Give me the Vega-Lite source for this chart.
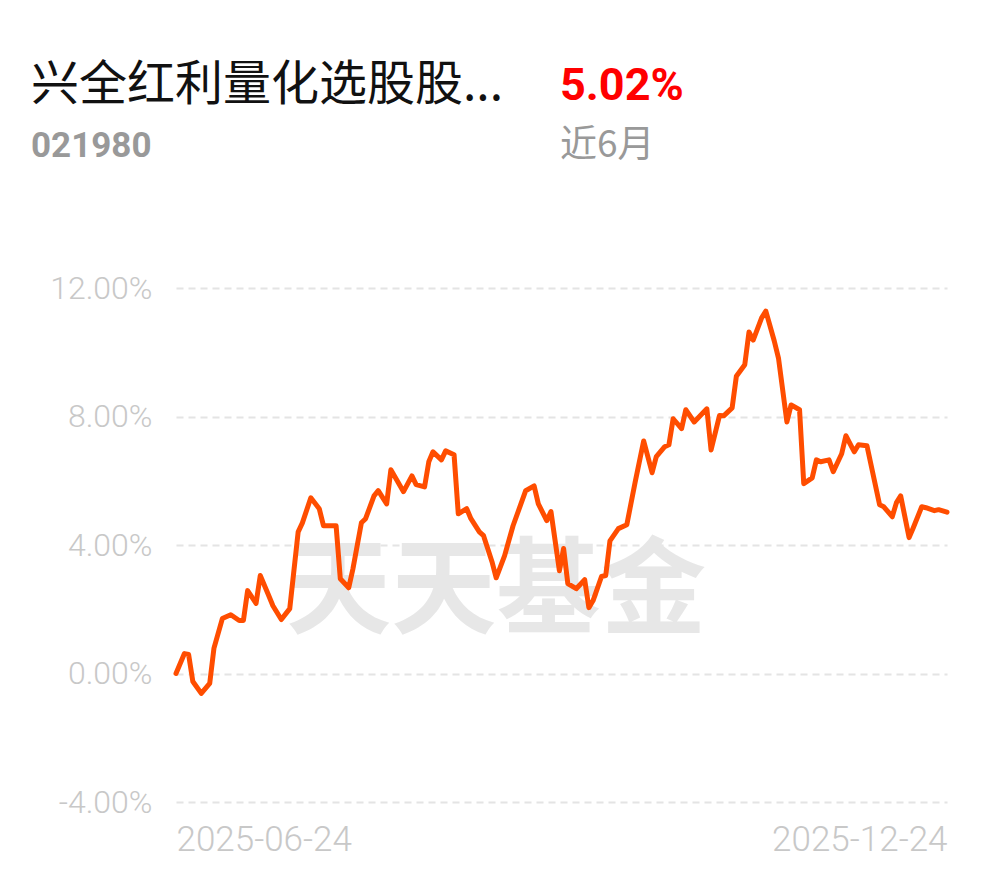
{
  "$schema": "https://vega.github.io/schema/vega-lite/v6.json",
  "autosize": {"type": "pad"},
  "padding": {"left": 31, "top": 62, "right": 40, "bottom": 20},
  "background": "#ffffff",
  "config": {"view": {"stroke": null}},
  "title": {
    "text": "兴全红利量化选股股...",
    "subtitle": "021980",
    "anchor": "start",
    "frame": "group",
    "dx": -145,
    "dy": 100,
    "font": "Noto Sans CJK SC",
    "fontSize": 48,
    "fontWeight": "normal",
    "color": "#111111",
    "subtitleFont": "Roboto",
    "subtitleFontSize": 35,
    "subtitleFontWeight": "bold",
    "subtitleColor": "#999999",
    "subtitlePadding": 19,
    "offset": 0
  },
  "datasets": {
    "nav": [
      {"date": "2025-06-24", "r": 0.00},
      {"date": "2025-06-26", "r": 0.62},
      {"date": "2025-06-27", "r": 0.59},
      {"date": "2025-06-28", "r": -0.25},
      {"date": "2025-06-30", "r": -0.62},
      {"date": "2025-07-02", "r": -0.31},
      {"date": "2025-07-03", "r": 0.78},
      {"date": "2025-07-05", "r": 1.71},
      {"date": "2025-07-07", "r": 1.83},
      {"date": "2025-07-09", "r": 1.65},
      {"date": "2025-07-10", "r": 1.65},
      {"date": "2025-07-11", "r": 2.58},
      {"date": "2025-07-13", "r": 2.18},
      {"date": "2025-07-14", "r": 3.05},
      {"date": "2025-07-16", "r": 2.43},
      {"date": "2025-07-17", "r": 2.11},
      {"date": "2025-07-19", "r": 1.68},
      {"date": "2025-07-21", "r": 2.02},
      {"date": "2025-07-23", "r": 4.41},
      {"date": "2025-07-24", "r": 4.69},
      {"date": "2025-07-26", "r": 5.47},
      {"date": "2025-07-28", "r": 5.13},
      {"date": "2025-07-29", "r": 4.60},
      {"date": "2025-08-01", "r": 4.60},
      {"date": "2025-08-02", "r": 2.95},
      {"date": "2025-08-04", "r": 2.67},
      {"date": "2025-08-05", "r": 3.26},
      {"date": "2025-08-07", "r": 4.69},
      {"date": "2025-08-08", "r": 4.82},
      {"date": "2025-08-10", "r": 5.53},
      {"date": "2025-08-11", "r": 5.69},
      {"date": "2025-08-13", "r": 5.28},
      {"date": "2025-08-14", "r": 6.34},
      {"date": "2025-08-17", "r": 5.66},
      {"date": "2025-08-19", "r": 6.15},
      {"date": "2025-08-20", "r": 5.88},
      {"date": "2025-08-22", "r": 5.81},
      {"date": "2025-08-23", "r": 6.59},
      {"date": "2025-08-24", "r": 6.90},
      {"date": "2025-08-26", "r": 6.65},
      {"date": "2025-08-27", "r": 6.93},
      {"date": "2025-08-29", "r": 6.81},
      {"date": "2025-08-30", "r": 4.97},
      {"date": "2025-09-01", "r": 5.13},
      {"date": "2025-09-02", "r": 4.82},
      {"date": "2025-09-04", "r": 4.41},
      {"date": "2025-09-05", "r": 4.29},
      {"date": "2025-09-07", "r": 3.48},
      {"date": "2025-09-08", "r": 2.98},
      {"date": "2025-09-10", "r": 3.67},
      {"date": "2025-09-12", "r": 4.60},
      {"date": "2025-09-15", "r": 5.69},
      {"date": "2025-09-17", "r": 5.84},
      {"date": "2025-09-18", "r": 5.28},
      {"date": "2025-09-20", "r": 4.76},
      {"date": "2025-09-21", "r": 5.04},
      {"date": "2025-09-23", "r": 3.20},
      {"date": "2025-09-24", "r": 3.89},
      {"date": "2025-09-25", "r": 2.80},
      {"date": "2025-09-27", "r": 2.64},
      {"date": "2025-09-29", "r": 2.92},
      {"date": "2025-09-30", "r": 2.05},
      {"date": "2025-10-01", "r": 2.27},
      {"date": "2025-10-03", "r": 3.02},
      {"date": "2025-10-04", "r": 3.05},
      {"date": "2025-10-05", "r": 4.13},
      {"date": "2025-10-07", "r": 4.51},
      {"date": "2025-10-09", "r": 4.63},
      {"date": "2025-10-11", "r": 5.97},
      {"date": "2025-10-13", "r": 7.24},
      {"date": "2025-10-15", "r": 6.25},
      {"date": "2025-10-16", "r": 6.75},
      {"date": "2025-10-18", "r": 7.06},
      {"date": "2025-10-19", "r": 7.12},
      {"date": "2025-10-20", "r": 7.93},
      {"date": "2025-10-22", "r": 7.62},
      {"date": "2025-10-23", "r": 8.21},
      {"date": "2025-10-25", "r": 7.83},
      {"date": "2025-10-28", "r": 8.24},
      {"date": "2025-10-29", "r": 6.96},
      {"date": "2025-10-31", "r": 8.03},
      {"date": "2025-11-01", "r": 8.02},
      {"date": "2025-11-03", "r": 8.27},
      {"date": "2025-11-04", "r": 9.25},
      {"date": "2025-11-06", "r": 9.61},
      {"date": "2025-11-07", "r": 10.63},
      {"date": "2025-11-08", "r": 10.38},
      {"date": "2025-11-10", "r": 11.07},
      {"date": "2025-11-11", "r": 11.28},
      {"date": "2025-11-13", "r": 10.35},
      {"date": "2025-11-14", "r": 9.82},
      {"date": "2025-11-16", "r": 7.83},
      {"date": "2025-11-17", "r": 8.36},
      {"date": "2025-11-19", "r": 8.21},
      {"date": "2025-11-20", "r": 5.91},
      {"date": "2025-11-22", "r": 6.09},
      {"date": "2025-11-23", "r": 6.65},
      {"date": "2025-11-24", "r": 6.59},
      {"date": "2025-11-26", "r": 6.65},
      {"date": "2025-11-27", "r": 6.28},
      {"date": "2025-11-29", "r": 6.84},
      {"date": "2025-11-30", "r": 7.40},
      {"date": "2025-12-02", "r": 6.90},
      {"date": "2025-12-03", "r": 7.12},
      {"date": "2025-12-05", "r": 7.09},
      {"date": "2025-12-08", "r": 5.25},
      {"date": "2025-12-09", "r": 5.19},
      {"date": "2025-12-11", "r": 4.88},
      {"date": "2025-12-12", "r": 5.32},
      {"date": "2025-12-13", "r": 5.53},
      {"date": "2025-12-15", "r": 4.23},
      {"date": "2025-12-16", "r": 4.54},
      {"date": "2025-12-18", "r": 5.19},
      {"date": "2025-12-19", "r": 5.16},
      {"date": "2025-12-21", "r": 5.07},
      {"date": "2025-12-22", "r": 5.10},
      {"date": "2025-12-24", "r": 5.02}
    ],
    "mark": [
      {"date": "2025-09-08", "r": 2.52, "label": "天天基金"}
    ]
  },
  "vconcat": [
    {
      "width": 771,
      "height": 514,
      "title": {
        "text": "5.02%",
        "subtitle": "近6月",
        "anchor": "start",
        "frame": "group",
        "dx": 384,
        "offset": 108,
        "font": "Roboto",
        "fontSize": 45,
        "fontWeight": "bold",
        "color": "#FF0000",
        "subtitleFont": "Noto Sans CJK SC",
        "subtitleFontSize": 37,
        "subtitleFontWeight": "normal",
        "subtitleColor": "#999999",
        "subtitlePadding": 19
      },
      "layer": [
        {
          "data": {"name": "mark"},
          "mark": {"type": "text", "font": "Noto Sans CJK SC", "fontSize": 105, "fontWeight": "bold", "color": "#e7e7e7", "align": "center", "baseline": "middle"},
          "encoding": {
            "x": {"field": "date", "type": "temporal"},
            "y": {"field": "r", "type": "quantitative"},
            "text": {"field": "label"}
          }
        },
        {
          "data": {"name": "nav"},
          "mark": {"type": "line", "color": "#FF4D00", "strokeWidth": 5, "strokeJoin": "round", "strokeCap": "round"},
          "encoding": {
            "x": {
              "field": "date",
              "type": "temporal",
              "scale": {"type": "utc", "nice": false},
              "axis": {
                "title": null,
                "values": [{"year": 2025, "month": 6, "date": 24, "utc": true}, {"year": 2025, "month": 12, "date": 24, "utc": true}],
                "format": "%Y-%m-%d",
                "labelFlush": true,
                "grid": false,
                "domain": false,
                "ticks": false,
                "labelPadding": 20,
                "labelFont": "Roboto",
                "labelFontSize": 35,
                "labelFontWeight": 300,
                "labelColor": "#c8c8c8"
              }
            },
            "y": {
              "field": "r",
              "type": "quantitative",
              "scale": {"domain": [-4, 12], "nice": false, "zero": false},
              "axis": {
                "title": null,
                "values": [-4, 0, 4, 8, 12],
                "labelExpr": "(datum.value < 0 ? '-' : '') + format(abs(datum.value), '.2f') + '%'",
                "grid": true,
                "gridDash": [7, 5],
                "gridColor": "#e4e4e4",
                "gridWidth": 2,
                "domain": false,
                "ticks": false,
                "labelPadding": 24,
                "labelFont": "Roboto",
                "labelFontSize": 32,
                "labelFontWeight": 300,
                "labelColor": "#c8c8c8"
              }
            }
          }
        }
      ]
    }
  ]
}
